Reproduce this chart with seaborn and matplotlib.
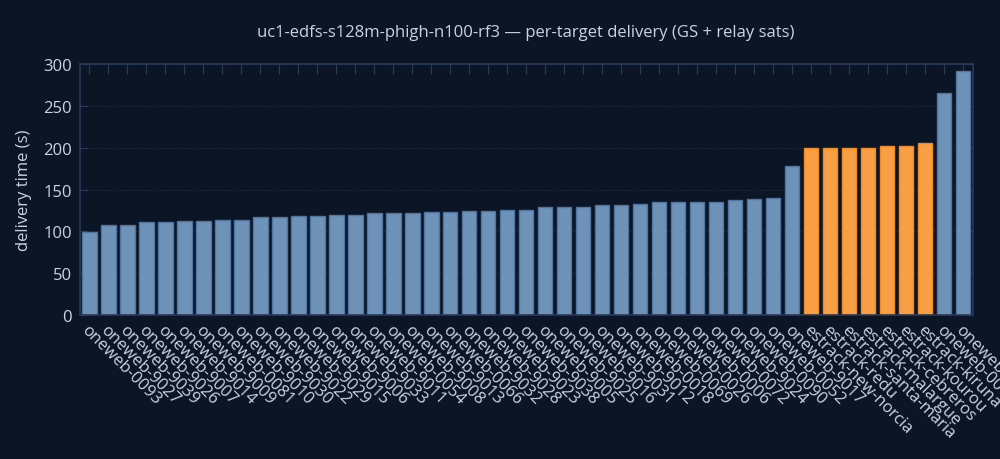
import numpy as np
import pandas as pd
import matplotlib
matplotlib.use('Agg')
import matplotlib.pyplot as plt
import seaborn as sns

# per-target delivery times (s)
targets = [
    'oneweb-0093', 'oneweb-9027', 'oneweb-9039', 'oneweb-9026', 'oneweb-9007',
    'oneweb-9014', 'oneweb-9009', 'oneweb-0081', 'oneweb-9010', 'oneweb-9030',
    'oneweb-9022', 'oneweb-9029', 'oneweb-9015', 'oneweb-9006', 'oneweb-9033',
    'oneweb-9011', 'oneweb-0054', 'oneweb-9008', 'oneweb-9013', 'oneweb-0066',
    'oneweb-9032', 'oneweb-9028', 'oneweb-9023', 'oneweb-9038', 'oneweb-9005',
    'oneweb-9025', 'oneweb-9016', 'oneweb-9031', 'oneweb-9012', 'oneweb-0018',
    'oneweb-0069', 'oneweb-0026', 'oneweb-0006', 'oneweb-0072', 'oneweb-9024',
    'oneweb-0090', 'oneweb-0052', 'oneweb-9017',
    'estrack-new-norcia', 'estrack-redu', 'estrack-santa-maria', 'estrack-malargue',
    'estrack-cebreros', 'estrack-kourou', 'estrack-kiruna',
    'oneweb-0001', 'oneweb-0002',
]
delivery = [
    99.5, 107.7, 108.0, 111.0, 111.2, 112.3, 112.5, 113.5, 113.6, 116.8,
    117.0, 118.0, 118.2, 119.3, 119.5, 121.6, 121.8, 122.0, 123.0, 123.2,
    124.2, 124.4, 125.4, 125.6, 128.8, 129.0, 129.1, 131.3, 131.5, 132.6,
    134.8, 134.9, 135.0, 135.1, 137.2, 138.4, 139.6, 178.0,
    199.6, 199.7, 199.8, 199.9, 202.0, 202.1, 205.4,
    265.3, 291.6,
]
kind = ['relay sat' if t.startswith('oneweb') else 'GS' for t in targets]

df = pd.DataFrame({'target': targets, 'delivery': delivery, 'kind': kind})

bg = '#0b1526'
txt = '#c8d4e3'
frame = '#2a3a56'
fill = {'relay sat': '#6f93b8', 'GS': '#f89e45'}
edge = {'relay sat': '#4d74a3', 'GS': '#f5881c'}

sns.set_style('dark')
plt.rcParams['font.family'] = ['Open Sans', 'DejaVu Sans']

fig = plt.figure(figsize=(10, 4.6), dpi=100, facecolor=bg)
ax = fig.add_axes([0.08, 0.313, 0.8927, 0.545])
ax.set_facecolor(bg)

sns.barplot(data=df, x='target', y='delivery', hue='kind', palette=fill,
            dodge=False, width=0.75, saturation=1, legend=False, ax=ax)

for p in ax.patches:
    fc = matplotlib.colors.to_hex(p.get_facecolor())
    p.set_edgecolor(edge['GS'] if fc == fill['GS'] else edge['relay sat'])
    p.set_linewidth(1.0)

ax.set_ylim(0, 300)
ax.set_xlim(-0.5, len(targets) - 0.5)
ax.set_yticks(np.arange(0, 301, 50))
ax.yaxis.grid(True, color='#26344c', linestyle=(0, (1, 2)), linewidth=0.8)
ax.xaxis.grid(False)
ax.set_axisbelow(True)

for s in ax.spines.values():
    s.set_visible(True)
    s.set_color(frame)
    s.set_linewidth(1.2)

ax.tick_params(axis='x', direction='in', top=True, bottom=True, length=7,
               color=frame, labelcolor=txt, labelsize=12, pad=5)
ax.tick_params(axis='y', direction='in', left=True, right=True, length=6,
               color=frame, labelcolor=txt, labelsize=12, pad=6)
ax.set_xticks(range(len(targets)))
ax.set_xticklabels(targets, rotation=-45, ha='left', va='top',
                   rotation_mode='anchor')

ax.set_xlabel('')
ax.set_ylabel('delivery time (s)', color=txt, fontsize=12, labelpad=8)
fig.text(0.526, 0.928, 'uc1-edfs-s128m-phigh-n100-rf3 \u2014 per-target delivery (GS + relay sats)',
         ha='center', va='center', color=txt, fontsize=12)

fig.savefig('out.png', dpi=100, facecolor=bg)
